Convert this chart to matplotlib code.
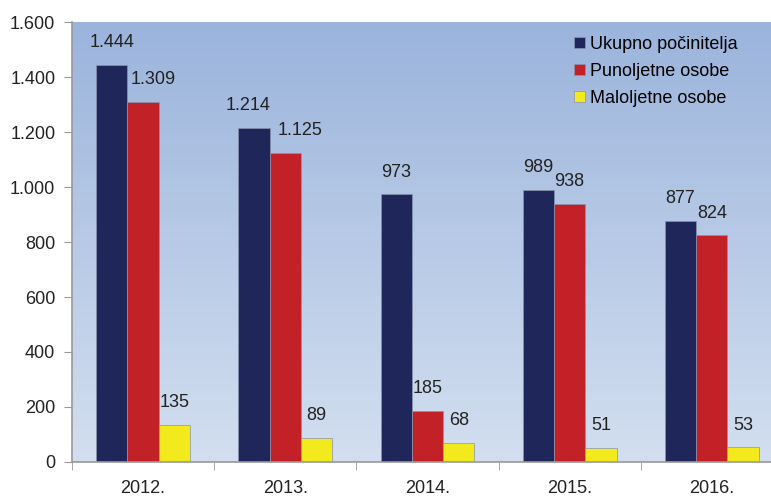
import matplotlib.pyplot as plt
import numpy as np
from matplotlib.colors import LinearSegmentedColormap

years = ["2012.", "2013.", "2014.", "2015.", "2016."]
ukupno = [1444, 1214, 973, 989, 877]
punoljetne = [1309, 1125, 185, 938, 824]
maloljetne = [135, 89, 68, 51, 53]
series_names = ["Ukupno počinitelja", "Punoljetne osobe", "Maloljetne osobe"]
colors = ["#1f275a", "#c32128", "#f2ea1c"]
# horizontal nudges (points) for labels that would overlap the neighbouring bar
label_shift = [[0, -4, 0, 0, 0], [7, 11, 0, 0, 0], [0, 0, 0, 0, 0]]

plt.rcParams["font.family"] = ["Liberation Sans", "DejaVu Sans"]


def fmt(v):
    return f"{v:,}".replace(",", ".")


fig = plt.figure(figsize=(7.71, 4.98), dpi=100)
ax = fig.add_axes([0.0934, 0.0723, 0.922, 0.8835])

x = np.arange(len(years))
w = 0.22
for i, (vals, name, c) in enumerate(zip([ukupno, punoljetne, maloljetne], series_names, colors)):
    pos = x + (i - 1) * w
    ax.bar(pos, vals, width=w, color=c, edgecolor="#8a94b0", linewidth=0.5, label=name, zorder=2)
    for px, v, dx in zip(pos, vals, label_shift[i]):
        ax.annotate(fmt(v), (px, v), xytext=(dx, 10), textcoords="offset points",
                    ha="center", va="bottom", fontsize=13, color="#222222", zorder=3)

ax.set_xlim(-0.5, len(years) - 0.5)
ax.set_ylim(0, 1600)

# background gradient
cmap = LinearSegmentedColormap.from_list("bg", ["#d3dff0", "#9bb4dc"])
grad = np.linspace(0, 1, 256).reshape(-1, 1)
ax.imshow(grad, extent=[-0.5, len(years) - 0.5, 0, 1600], origin="lower",
          aspect="auto", cmap=cmap, zorder=0)

ax.set_yticks(np.arange(0, 1601, 200))
ax.set_yticklabels([fmt(v) for v in range(0, 1601, 200)])
ax.set_xticks(x)
ax.set_xticklabels(years)
ax.set_xticks(np.arange(-0.5, len(years), 1), minor=True)
ax.tick_params(axis="x", which="major", length=0, pad=13, labelsize=13, colors="#222222")
ax.tick_params(axis="x", which="minor", length=6, color="#999999", direction="out")
ax.tick_params(axis="y", length=6, color="#999999", labelsize=13, labelcolor="#222222", pad=6)

for s in ["top", "right"]:
    ax.spines[s].set_visible(False)
for s in ["left", "bottom"]:
    ax.spines[s].set_color("#999999")
    ax.spines[s].set_linewidth(1.2)

leg = ax.legend(loc="upper left", bbox_to_anchor=(0.683, 1.005), frameon=False, fontsize=13,
                handlelength=0.6, handleheight=0.6, handletextpad=0.3, labelspacing=0.55)

fig.savefig("out.png", dpi=100)
